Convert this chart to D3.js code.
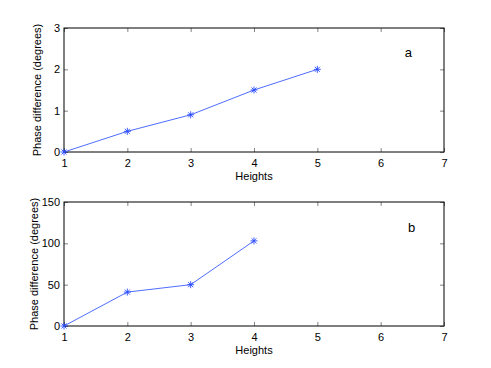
<!DOCTYPE html>
<html>
<head>
<meta charset="utf-8">
<script src="https://cdn.jsdelivr.net/npm/d3@7"></script>
<style>
  body { margin: 0; background: #fff; }
  svg { display: block; }
  text { font-family: "Liberation Sans", Arial, Helvetica, sans-serif; }
</style>
</head>
<body>
<svg id="chart" width="491" height="368"></svg>
<script>
// data
const heightsA = [1, 2, 3, 4, 5];
const phaseA = [0, 0.5, 0.9, 1.5, 2.0];
const heightsB = [1, 2, 3, 4];
const phaseB = [0, 41, 50, 103];
const xTicks = [1, 2, 3, 4, 5, 6, 7];
const yTicksA = [0, 1, 2, 3];
const yTicksB = [0, 50, 100, 150];

const svg = d3.select("#chart");
const left = 64, right = 444;
const fs = 11;

const panels = [
  { top: 28, bottom: 152, xs: heightsA, ys: phaseA, yDomain: [0, 3], yTicks: yTicksA, tag: "a", tagX: 6.38, tagY: 2.3, labelX: 41 },
  { top: 202, bottom: 326, xs: heightsB, ys: phaseB, yDomain: [0, 150], yTicks: yTicksB, tag: "b", tagX: 6.43, tagY: 114, labelX: 38 }
];

const x = d3.scaleLinear().domain([1, 7]).range([left, right]);

panels.forEach((p) => {
  const y = d3.scaleLinear().domain(p.yDomain).range([p.bottom, p.top]);
  const g = svg.append("g");

  // inward ticks on all four sides
  const tl = 4;
  g.append("g")
    .attr("transform", `translate(0,${p.bottom})`)
    .call(d3.axisBottom(x).tickValues(xTicks).tickSizeInner(-tl).tickSizeOuter(0).tickPadding(7).tickFormat(d3.format("d")))
    .call((a) => a.select(".domain").remove());
  g.append("g")
    .attr("transform", `translate(0,${p.top})`)
    .call(d3.axisTop(x).tickValues(xTicks).tickSizeInner(-tl).tickSizeOuter(0).tickFormat(""))
    .call((a) => a.select(".domain").remove());
  g.append("g")
    .attr("transform", `translate(${left},0)`)
    .call(d3.axisLeft(y).tickValues(p.yTicks).tickSizeInner(-tl).tickSizeOuter(0).tickPadding(4).tickFormat(d3.format("d")))
    .call((a) => a.select(".domain").remove());
  g.append("g")
    .attr("transform", `translate(${right},0)`)
    .call(d3.axisRight(y).tickValues(p.yTicks).tickSizeInner(-tl).tickSizeOuter(0).tickFormat(""))
    .call((a) => a.select(".domain").remove());

  g.selectAll(".tick line").attr("stroke", "#666").attr("stroke-width", 0.8);
  g.selectAll(".tick text").attr("font-size", fs).attr("fill", "#000")
    .style("font-family", '"Liberation Sans", Arial, sans-serif');

  // frame
  g.append("rect")
    .attr("x", left).attr("y", p.top)
    .attr("width", right - left).attr("height", p.bottom - p.top)
    .attr("fill", "none").attr("stroke", "#000").attr("stroke-width", 1);

  // series line
  const pts = p.xs.map((h, i) => [h, p.ys[i]]);
  g.append("path")
    .datum(pts)
    .attr("fill", "none")
    .attr("stroke", "#3a5cff")
    .attr("stroke-width", 0.9)
    .attr("d", d3.line().x((d) => x(d[0])).y((d) => y(d[1])));

  // asterisk markers
  const star = g.selectAll(".mk").data(pts).enter().append("g")
    .attr("class", "mk")
    .attr("transform", (d) => `translate(${x(d[0])},${y(d[1])})`);
  const r = 3.5;
  [[-r, 0, r, 0], [0, -r, 0, r], [-r * 0.72, -r * 0.72, r * 0.72, r * 0.72], [-r * 0.72, r * 0.72, r * 0.72, -r * 0.72]].forEach((l) => {
    star.append("line")
      .attr("x1", l[0]).attr("y1", l[1]).attr("x2", l[2]).attr("y2", l[3])
      .attr("stroke", "#2a4cff").attr("stroke-width", 0.9);
  });

  // axis labels
  g.append("text")
    .attr("x", (left + right) / 2).attr("y", p.bottom + 28)
    .attr("text-anchor", "middle").attr("font-size", fs)
    .text("Heights");
  g.append("text")
    .attr("transform", `translate(${p.labelX},${(p.top + p.bottom) / 2}) rotate(-90)`)
    .attr("text-anchor", "middle").attr("font-size", fs)
    .text("Phase difference (degrees)");

  // panel tag
  g.append("text")
    .attr("x", x(p.tagX)).attr("y", y(p.tagY))
    .attr("font-size", 13)
    .text(p.tag);
});
</script>
</body>
</html>
